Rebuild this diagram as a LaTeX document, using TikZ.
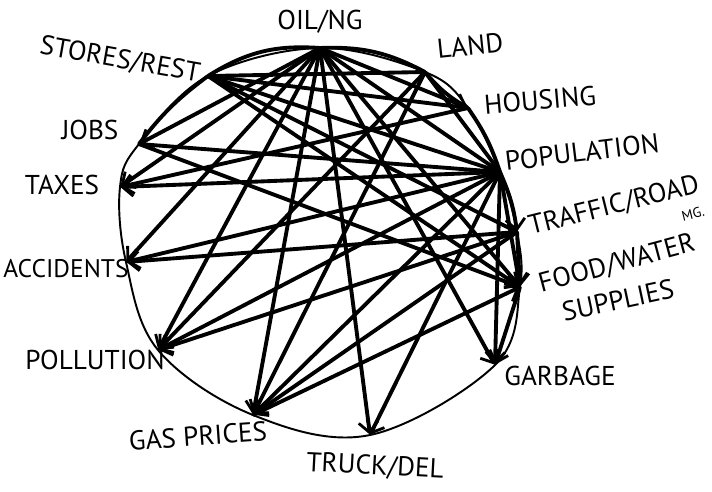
\documentclass[tikz,border=0pt]{standalone}
\usepackage{fontspec}
\setmainfont{PT Sans}
\usetikzlibrary{positioning,arrows.meta}

\begin{document}
\begin{tikzpicture}[
    x=0.02cm, y=-0.02cm,
    every node/.style={font=\fontsize{15.5}{16}\selectfont},
    pt/.style={inner sep=0pt, minimum size=0pt},
    lbl/.style={inner sep=1pt},
    link/.style={line width=2.2pt, line cap=round},
    cause/.style={link, -{Straight Barb[length=6pt,width=11pt,line width=1.6pt]}},
    rim/.style={line width=1.1pt}
]
\useasboundingbox (0,0) rectangle (712,491);

% points on the ring
\node[pt] (oil) at (320,48) {};
\node[pt] (land) at (425,72) {};
\node[pt] (housing) at (468,108) {};
\node[pt] (population) at (500,172) {};
\node[pt] (traffic) at (517,232) {};
\node[pt] (food) at (520,287) {};
\node[pt] (garbage) at (495,365) {};
\node[pt] (truck) at (370,435) {};
\node[pt] (gas) at (253,415) {};
\node[pt] (pollution) at (158,350) {};
\node[pt] (accidents) at (126,262) {};
\node[pt] (taxes) at (120,187) {};
\node[pt] (jobs) at (139,144) {};
\node[pt] (stores) at (208,76) {};

\draw[rim] plot[smooth cycle, tension=0.6] coordinates {(oil) (land) (housing) (population) (traffic) (food) (garbage) (truck) (gas) (pollution) (accidents) (taxes) (jobs) (stores)};

% labels
\node[lbl] (oil-l) at (320,22) {OIL/NG};
\node[lbl, rotate=6] (land-l) at (470,46) {LAND};
\node[lbl, rotate=5] (housing-l) at (540,100) {HOUSING};
\node[lbl, rotate=7] (population-l) at (582,152) {POPULATION};
\node[lbl, rotate=14] (traffic-l) at (614,206) {TRAFFIC/ROAD};
\node[lbl, font=\fontsize{8}{9}\selectfont, rotate=14] (traffic-s) at (693,214) {MG.};
\node[lbl, rotate=15] (food-l) at (617,264) {FOOD/WATER};
\node[lbl, rotate=12] (supplies-l) at (618,300) {SUPPLIES};
\node[lbl] (garbage-l) at (560,376) {GARBAGE};
\node[lbl, rotate=-3] (truck-l) at (375,467) {TRUCK/DEL};
\node[lbl, rotate=4] (gas-l) at (198,436) {GAS PRICES};
\node[lbl] (pollution-l) at (95,360) {POLLUTION};
\node[lbl, font=\fontsize{14.5}{15}\selectfont] (accidents-l) at (66,269) {ACCIDENTS};
\node[lbl] (taxes-l) at (62,185) {TAXES};
\node[lbl] (jobs-l) at (90,130) {JOBS};
\node[lbl, rotate=-10] (stores-l) at (120,60) {STORES/REST};

% links round the rim
\draw[link] (oil) to[bend right=18] (stores);
\draw[link] (oil) to[bend left=15] (land);
\draw[link] (stores) to[bend right=8] (jobs);
\draw[link] (land) to[bend right=10] (housing);
\draw[link] (housing) to[bend left=8] (population);
\draw[cause] (population) to[bend left=8] (traffic);
\draw[cause] (traffic) -- (food);

% links across
\foreach \a/\b in {oil/jobs, oil/taxes, oil/accidents, oil/pollution, oil/gas, oil/truck,
    oil/garbage, oil/food, oil/population, oil/housing,
    stores/food, land/pollution, land/gas,
    housing/taxes, population/taxes, population/accidents, population/pollution,
    population/gas, population/truck, population/garbage, population/food,
    traffic/accidents, traffic/pollution, traffic/gas, gas/food, food/garbage}
  \draw[cause] (\a) -- (\b);

\foreach \a/\b in {stores/land, stores/housing, stores/population, stores/traffic,
    land/population, jobs/population, jobs/food}
  \draw[link] (\a) -- (\b);
\end{tikzpicture}
\end{document}
